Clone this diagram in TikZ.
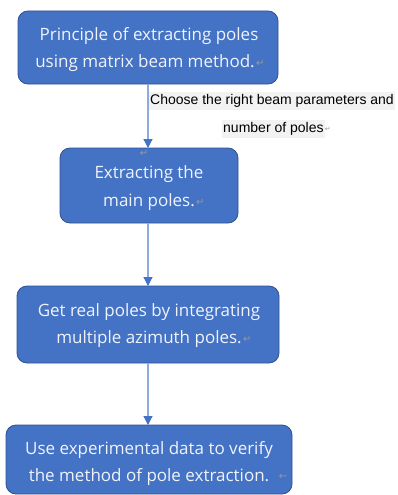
\documentclass[tikz,border=0pt]{standalone}
\usepackage{fontspec}
\setmainfont{Open Sans}
\newfontfamily\labelfont{Liberation Sans}
\newfontfamily\symfont{DejaVu Sans}
\usetikzlibrary{arrows.meta}
\definecolor{boxfill}{HTML}{4472C4}
\definecolor{boxedge}{HTML}{2F528F}
\definecolor{linecol}{HTML}{8FAADC}
\definecolor{markgray}{HTML}{9A9A9A}
\definecolor{hlgray}{HTML}{F2F2F2}
\tikzset{
  stepbox/.style={draw=boxedge, line width=0.8pt, fill=boxfill, rounded corners=10pt},
  steptext/.style={text=white!92!boxfill, font=\fontsize{17}{27}\selectfont, align=center, inner sep=0pt},
  flow/.style={draw=linecol, line width=1.2pt, -{Triangle[length=9pt,width=9pt,color=boxfill]}},
  labeltext/.style={font=\labelfont\fontsize{14}{16}\selectfont, fill=hlgray, inner xsep=1pt, inner ysep=2pt, anchor=west},
  pmark/.style={text=markgray, font=\symfont\fontsize{10}{10}\selectfont, inner sep=0pt}
}
\begin{document}
\begin{tikzpicture}[x=1pt,y=-1pt]
\useasboundingbox (0,0) rectangle (397,495);
% boxes
\draw[stepbox] (18,11) rectangle (278,84);
\draw[stepbox] (60,148) rectangle (238,223);
\draw[stepbox] (17,286) rectangle (279,363);
\draw[stepbox] (6,425) rectangle (292,494);
\coordinate (b1s) at (148,84);
\coordinate (b2n) at (148,148);
\coordinate (b2s) at (148,223);
\coordinate (b3n) at (148,286);
\coordinate (b3s) at (148,363);
\coordinate (b4n) at (148,425);
% texts
\node[steptext] (t1a) at (149,36) {Principle of extracting poles};
\node[steptext] (t1b) at (145,63) {using matrix beam method.};
\node[steptext] (t2a) at (149,174) {Extracting the};
\node[steptext] (t2b) at (149,202) {main poles.};
\node[steptext] (t3a) at (149,312) {Get real poles by integrating};
\node[steptext] (t3b) at (149,339) {multiple azimuth poles.};
\node[steptext] (t4a) at (149,450) {Use experimental data to verify};
\node[steptext] (t4b) at (149,477) {the method of pole extraction.};
% paragraph marks
\node[pmark, anchor=west] (m1) at ([xshift=1pt]t1b.east) {↵};
\node[pmark, anchor=west] (m2) at ([xshift=1pt]t2b.east) {↵};
\node[pmark, anchor=west] (m3) at ([xshift=1pt]t3b.east) {↵};
\node[pmark] (m4) at (283,477) {←};
\node[pmark] (m5) at (144,153) {↵};
% connectors
\draw[flow] (b1s) -- (b2n);
\draw[flow] (b2s) -- (b3n);
\draw[flow] (b3s) -- (b4n);
% label
\node[labeltext] (l1) at (149,101) {Choose the right beam parameters and};
\node[labeltext] (l2) at (222,129) {number of poles};
\node[pmark, anchor=west, font=\symfont\fontsize{7}{7}\selectfont] (m6) at (l2.east) {↵};
\end{tikzpicture}
\end{document}
